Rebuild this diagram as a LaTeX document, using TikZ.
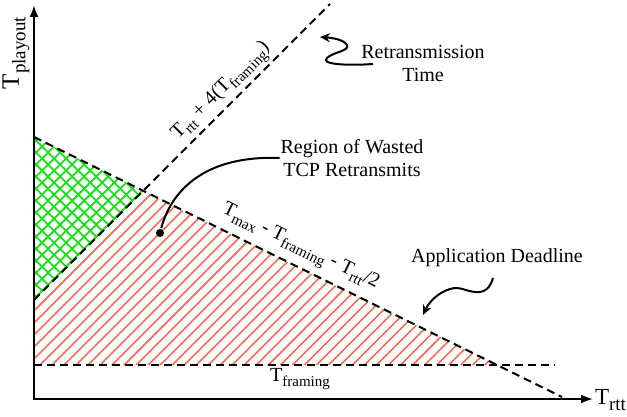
\documentclass[tikz,border=0pt]{standalone}
\usepackage{fontspec}
\setmainfont{Liberation Serif}
\usepackage{xcolor}
\usetikzlibrary{arrows.meta,patterns.meta}
\definecolor{hatchred}{RGB}{250,105,85}
\definecolor{hatchgreen}{RGB}{20,225,20}
\newcommand{\Tsub}[2][7.5]{T\raisebox{-0.55ex}{\fontsize{#1}{#1}\selectfont #2}}

\begin{document}
\begin{tikzpicture}[x=0.5pt,y=-0.5pt,line width=1pt,
  dline/.style={dash pattern=on 4pt off 2.5pt},
  lbl/.style={inner sep=0pt,font=\fontsize{10}{11.5}\selectfont,align=center},
  squig/.style={-{Stealth[length=5pt,width=4.5pt]}}]
\useasboundingbox (0,0) rectangle (627,417);
\coordinate (o) at (34,399);
\coordinate (ytop) at (34,5);
\coordinate (xend) at (593,399);
\coordinate (d0) at (34,137);
\coordinate (d1) at (562,397);
\coordinate (r0) at (34,300);
\coordinate (r1) at (330,4);
\coordinate (x) at (143,191);
\coordinate (f0) at (34,365);
\coordinate (f1) at (555,365);
\coordinate (fd) at (497,365);
\fill [pattern={Lines[angle=45,distance=4.25pt,line width=0.9pt]},pattern color=hatchgreen] (d0) -- (x) -- (r0) -- cycle;
\fill [pattern={Lines[angle=-45,distance=4.25pt,line width=0.9pt]},pattern color=hatchgreen] (d0) -- (x) -- (r0) -- cycle;
\fill [pattern={Lines[angle=45,distance=4.25pt,line width=0.8pt]},pattern color=hatchred] (r0) -- (x) -- (fd) -- (f0) -- cycle;
\draw [{Latex[length=6pt,width=4.5pt]}-{Latex[length=6pt,width=4.5pt]}] (ytop) -- (o) -- (xend);
\draw [dline] (d0) -- (d1);
\draw [dline] (r0) -- (r1);
\draw [dline] (f0) -- (f1);
\node [lbl,rotate=90,font=\fontsize{12.5}{13}\selectfont] (tplay) at (16,53) {\Tsub[9.5]{playout}};
\node [lbl,anchor=west,font=\fontsize{11.5}{12}\selectfont] (trtt) at (594,400) {\Tsub[9.5]{rtt}};
\node [lbl] (tfram) at (300,379) {\Tsub{framing}};
\node [lbl,rotate=45] (rlbl) at (222,92) {\Tsub{rtt} + 4(\Tsub{framing})};
\node [lbl,rotate=-26.2] (dlbl) at (300,248) {\Tsub{max} - \Tsub{framing} - \Tsub{rtt}/2};
\node [lbl] (ret) at (423,63) {Retransmission\\Time};
\node [lbl] (reg) at (352,158) {Region of Wasted\\TCP Retransmits};
\node [lbl] (app) at (497,258) {Application Deadline};
\node [circle,fill,inner sep=0pt,minimum size=4pt] (dot) at (160,233) {};
\coordinate (rtail) at (373,64);
\coordinate (rtip) at (320,37);
\coordinate (atail) at (493,278);
\coordinate (atip) at (423,315);
\draw [squig] (rtail) .. controls (345,66) and (320,64) .. (327,58) .. controls (333,52) and (350,51) .. (347,45) .. controls (344,40) and (334,38) .. (rtip);
\draw [squig] (atail) .. controls (490,288) and (485,293) .. (475,292) .. controls (465,291) and (460,286) .. (450,289) .. controls (440,292) and (430,300) .. (atip);
\draw (reg.west) .. controls (200,155) and (170,195) .. (dot);
\end{tikzpicture}
\end{document}
